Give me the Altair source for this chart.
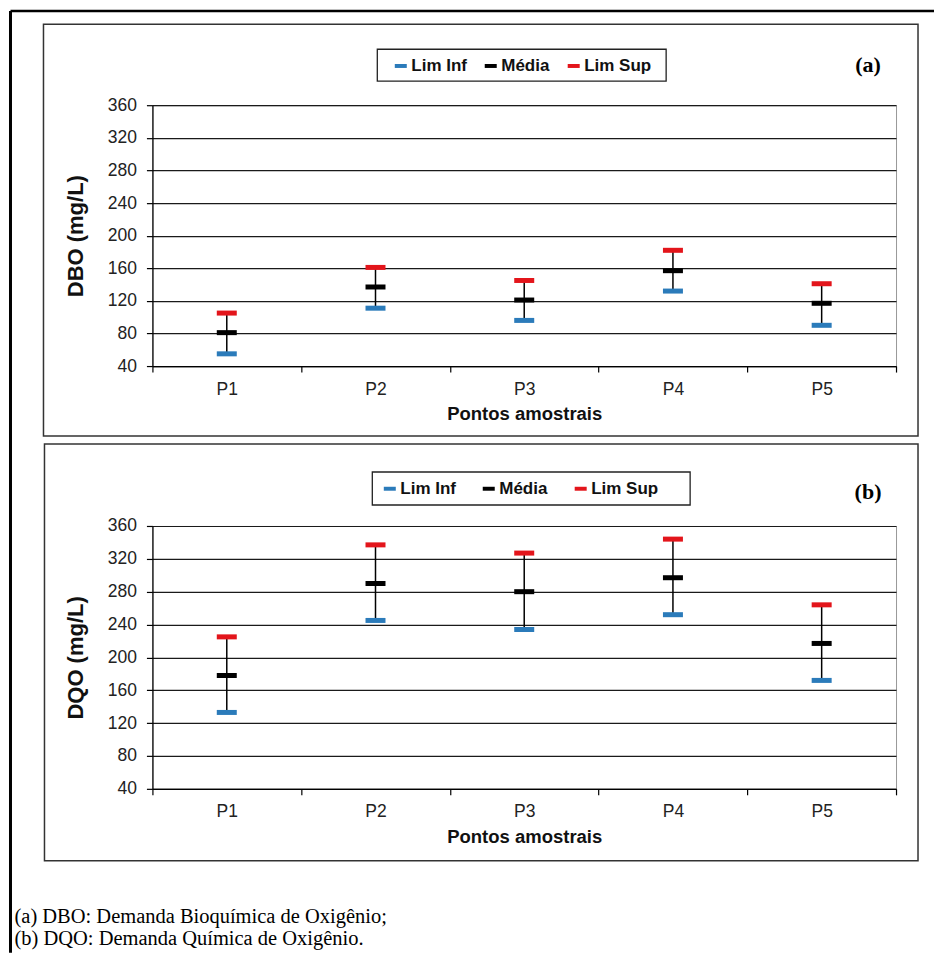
import altair as alt
import pandas as pd

# ---------------- data ----------------
points = ["P1", "P2", "P3", "P4", "P5"]
series = ["Lim Inf", "Média", "Lim Sup"]
dbo_inf = [55, 111, 96, 132, 90]
dbo_med = [81, 137, 121, 157, 117]
dbo_sup = [105, 161, 145, 182, 141]
dqo_inf = [133, 245, 234, 252, 172]
dqo_med = [178, 290, 280, 297, 217]
dqo_sup = [225, 337, 327, 344, 264]
y_ticks = [40, 80, 120, 160, 200, 240, 280, 320, 360]
y_titles = ["DBO (mg/L)", "DQO (mg/L)"]
x_title = "Pontos amostrais"
panel_tags = ["(a)", "(b)"]
caption_lines = ["(a) DBO: Demanda Bioquímica de Oxigênio;",
                 "(b) DQO: Demanda Química de Oxigênio."]
series_colors = ["#2b7bba", "#000000", "#e3151b"]

SANS = "Liberation Sans"
SERIF = "Liberation Serif"
W = 744


def one():
    return pd.DataFrame({"k": [0]})


def box(x1, x2, y1, y2, color, width):
    return alt.Chart(one()).mark_rect(fillOpacity=0, stroke=color, strokeWidth=width).encode(
        x=alt.value(x1), x2=alt.value(x2), y=alt.value(y1), y2=alt.value(y2))


def panel(inf, med, sup, ytitle, tag, H, leg_x, leg_y, col_pad, lbox, frame, tag_y, extra):
    wide = pd.DataFrame({"Ponto": points, "inf": inf, "med": med, "sup": sup})
    long = pd.DataFrame({
        "Ponto": points * 3,
        "Série": [s for s in series for _ in points],
        "valor": list(inf) + list(med) + list(sup),
    })
    xaxis = alt.Axis(title=x_title, tickBand="extent", labelAngle=0, grid=False,
                     domainColor="black", domainWidth=1.2, tickColor="black", tickWidth=1.2,
                     tickSize=6, labelFont=SANS, labelFontSize=17.5, labelColor="#222",
                     labelPadding=8, titleFont=SANS, titleFontSize=18.5, titleFontWeight="bold",
                     titleColor="#111", titlePadding=7)
    yaxis = alt.Axis(values=y_ticks, title=ytitle, grid=True, gridColor="#1a1a1a", gridWidth=1.2,
                     domainColor="black", domainWidth=1.2, tickColor="black", tickWidth=1.2,
                     tickSize=6, labelFont=SANS, labelFontSize=17.5, labelColor="#222",
                     labelPadding=10, titleFont=SANS, titleFontSize=22, titleFontWeight="bold",
                     titleColor="#111", titlePadding=20)
    xs = alt.Scale(paddingInner=0, paddingOuter=0)
    ys = alt.Scale(domain=[40, 360], nice=False, zero=False)

    rule = alt.Chart(wide).mark_rule(color="black", strokeWidth=1.5).encode(
        x=alt.X("Ponto:N", sort=points, scale=xs, axis=xaxis),
        y=alt.Y("inf:Q", scale=ys, axis=yaxis, title=ytitle),
        y2="sup:Q",
    )
    ticks = alt.Chart(long).mark_tick(size=20, thickness=5, opacity=1).encode(
        x=alt.X("Ponto:N", sort=points, scale=xs, axis=xaxis),
        y=alt.Y("valor:Q", scale=ys, axis=yaxis, title=ytitle),
        color=alt.Color("Série:N", sort=series,
                        scale=alt.Scale(domain=series, range=series_colors),
                        legend=alt.Legend(title=None, orient="none", legendX=leg_x, legendY=leg_y,
                                          direction="horizontal", padding=0,
                                          symbolType="M-1,-0.33H1V0.33H-1Z", symbolSize=144,
                                          symbolOpacity=1, symbolStrokeWidth=0,
                                          labelFont=SANS, labelFontSize=17, labelFontWeight="bold",
                                          labelColor="#111", labelOffset=2,
                                          columnPadding=col_pad)),
    )
    legend_box = box(lbox[0], lbox[1], lbox[2], lbox[3], "#222", 1.3)
    frame_box = box(frame[0], frame[1], frame[2], frame[3], "#333", 1.5)
    tag_text = alt.Chart(pd.DataFrame({"t": [tag]})).mark_text(
        font=SERIF, fontSize=22, fontWeight="bold", align="center", baseline="alphabetic",
        color="black").encode(x=alt.value(716), y=alt.value(tag_y), text="t:N")
    layers = [frame_box, legend_box, rule, ticks, tag_text] + extra
    return alt.layer(*layers).properties(width=W, height=H)


# outer page frame (only the visible top and left edges)
outer_top = alt.Chart(one()).mark_rule(color="black", strokeWidth=2.5).encode(
    x=alt.value(-142), x2=alt.value(782), y=alt.value(-94.25))
outer_left = alt.Chart(one()).mark_rule(color="black", strokeWidth=3).encode(
    x=alt.value(-142), y=alt.value(-94.25), y2=alt.value(848))

caption = alt.Chart(pd.DataFrame({"t": ["\n".join(caption_lines)]})).mark_text(
    font=SERIF, fontSize=20.5, align="left", baseline="alphabetic", lineBreak="\n",
    lineHeight=22, color="black").encode(x=alt.value(-138), y=alt.value(397), text="t:N")

top = panel(dbo_inf, dbo_med, dbo_sup, y_titles[0], panel_tags[0], 261,
            240, -48, 15, (225, 514, -56, -24), (-109, 766, -81, 331), -33,
            [outer_top, outer_left])
bottom = panel(dqo_inf, dqo_med, dqo_sup, y_titles[1], panel_tags[1], 263,
               229, -46, 24, (220, 538, -54, -21), (-108, 766, -82, 335), -27,
               [caption])

chart = alt.vconcat(top, bottom, spacing=160, bounds="flush").resolve_scale(
    color="independent").resolve_legend(color="independent").properties(
    padding={"left": 0.5, "top": 0, "right": 0, "bottom": 0}
).configure_view(stroke="#999", strokeWidth=1)

chart.save("out.html", embed_options={"renderer": "svg", "actions": False})
